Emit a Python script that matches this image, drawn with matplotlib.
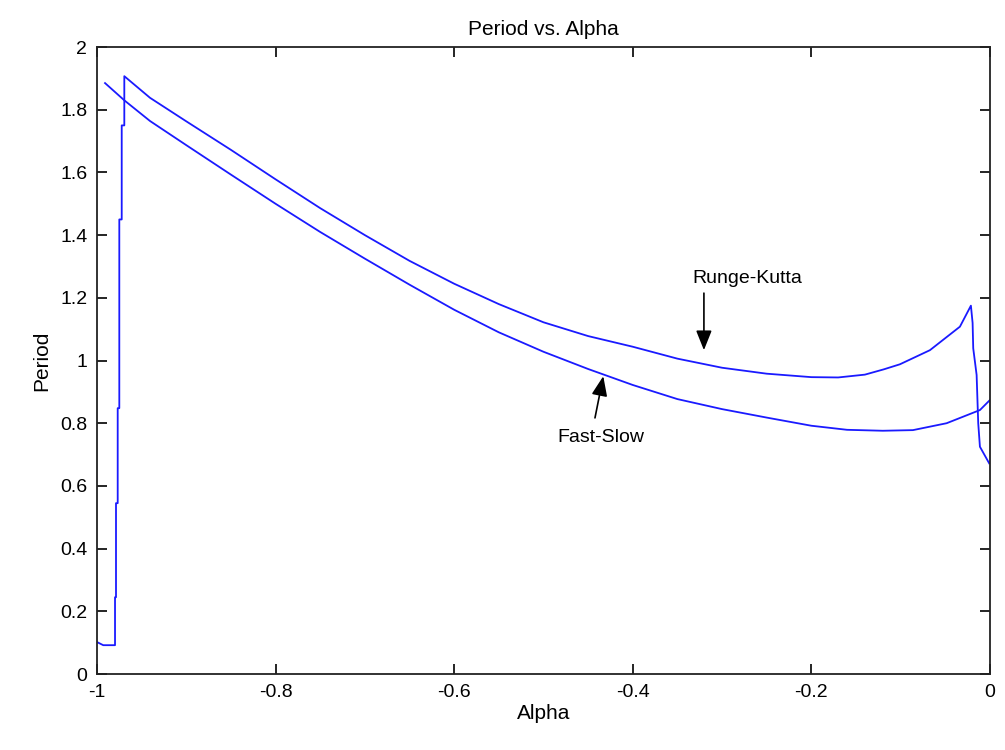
import numpy as np
from matplotlib import pyplot as plt

# Runge-Kutta period (upper curve, with the jump near alpha = -1)
rk_alpha = [-1.0, -0.993, -0.9798, -0.9798, -0.9787, -0.9787, -0.9768, -0.9768,
            -0.975, -0.975, -0.9723, -0.9723, -0.9694, -0.9694, -0.9406, -0.90,
            -0.85, -0.80, -0.75, -0.70, -0.65, -0.60, -0.55, -0.50, -0.45,
            -0.40, -0.35, -0.30, -0.25, -0.20, -0.17, -0.14, -0.1187, -0.1008,
            -0.0672, -0.0336, -0.0213, -0.0194, -0.0187, -0.0149, -0.0131,
            -0.0112, -0.0008]
rk_period = [0.102, 0.092, 0.092, 0.245, 0.245, 0.545, 0.545, 0.848,
             0.848, 1.45, 1.45, 1.75, 1.75, 1.907, 1.838, 1.763,
             1.672, 1.578, 1.486, 1.400, 1.318, 1.245, 1.180, 1.122, 1.078,
             1.044, 1.006, 0.977, 0.958, 0.947, 0.946, 0.955, 0.972, 0.988,
             1.033, 1.108, 1.175, 1.120, 1.039, 0.954, 0.800,
             0.725, 0.672]

# fast-slow approximation (lower curve)
fs_alpha = [-0.991, -0.9694, -0.9406, -0.90, -0.85, -0.80, -0.75, -0.70,
            -0.65, -0.60, -0.55, -0.50, -0.45, -0.40, -0.35, -0.30, -0.25,
            -0.20, -0.16, -0.12, -0.0862, -0.0485, -0.0112, 0.0]
fs_period = [1.885, 1.83, 1.764, 1.687, 1.593, 1.500, 1.410, 1.325,
             1.242, 1.162, 1.090, 1.028, 0.973, 0.922, 0.877, 0.845, 0.818,
             0.792, 0.779, 0.776, 0.778, 0.800, 0.842, 0.874]

plt.rcParams['font.family'] = ['Liberation Sans', 'DejaVu Sans']

fig = plt.figure(figsize=(10.05, 7.5), dpi=100)
ax = fig.add_axes([0.0965, 0.1013, 0.8885, 0.836])

ax.plot(rk_alpha, rk_period, color='#1a1aff', lw=1.3)
ax.plot(fs_alpha, fs_period, color='#1a1aff', lw=1.3)

ax.set_xlim(-1, 0)
ax.set_ylim(0, 2)
ax.set_xticks(np.arange(-1, 0.01, 0.2))
ax.set_xticklabels(['-1', '-0.8', '-0.6', '-0.4', '-0.2', '0'])
ax.set_yticks(np.arange(0, 2.01, 0.2))
ax.set_yticklabels(['0', '0.2', '0.4', '0.6', '0.8', '1', '1.2', '1.4', '1.6', '1.8', '2'])
ax.tick_params(direction='in', length=7, width=1.2, top=True, right=True,
               labelsize=14, pad=7)
for s in ax.spines.values():
    s.set_linewidth(1.3)
    s.set_color('#222222')

ax.set_title('Period vs. Alpha', fontsize=15, pad=9)
ax.set_xlabel('Alpha', fontsize=15, labelpad=2)
ax.set_ylabel('Period', fontsize=15, labelpad=6)

arrow = dict(arrowstyle='-|>,head_length=1.0,head_width=0.4', color='k',
             lw=1.2, mutation_scale=12, shrinkA=0, shrinkB=0)
ax.annotate('', xy=(-0.3203, 1.033), xytext=(-0.3203, 1.215), arrowprops=arrow)
ax.text(-0.272, 1.263, 'Runge-Kutta', fontsize=14, ha='center', va='center')
ax.annotate('', xy=(-0.433, 0.950), xytext=(-0.4423, 0.817), arrowprops=arrow)
ax.text(-0.436, 0.753, 'Fast-Slow', fontsize=14, ha='center', va='center')

plt.savefig('out.png', dpi=100)
